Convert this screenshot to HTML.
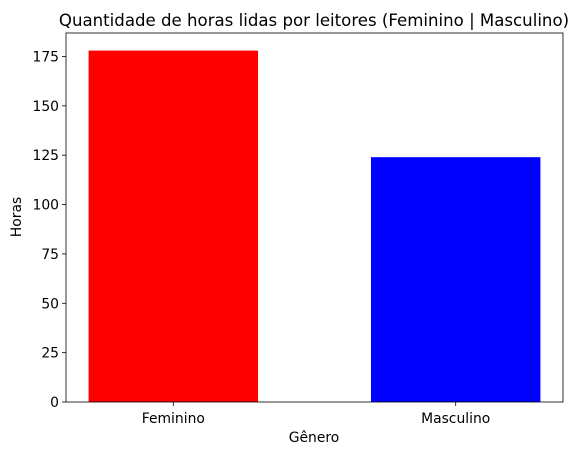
<!DOCTYPE html>
<html><head><meta charset="utf-8"><style>
body{margin:0;background:#fff}
svg text{font-family:"DejaVu Sans","Liberation Sans",sans-serif;fill:#000}
</style></head><body>
<svg id="chart" width="578" height="455" xmlns="http://www.w3.org/2000/svg">
<text x="314" y="26" font-size="16.6" text-anchor="middle">Quantidade de horas lidas por leitores (Feminino | Masculino)</text>
<g id="bars"></g>
<g id="axes"></g>
<text x="314" y="442" font-size="13.9" text-anchor="middle">Gênero</text>
<text transform="translate(21,217) rotate(-90)" font-size="13.9" text-anchor="middle">Horas</text>
</svg>
<script>
const categories=["Feminino","Masculino"];
const values=[178,124];
const colors=["#ff0000","#0000ff"];
const yTicks=[0,25,50,75,100,125,150,175];
const L=66,R=563,T=33,B=402;
const ymax=Math.max(...values)*1.05;
const xmin=-0.38,xmax=categories.length-1+0.38;
const sx=v=>L+(v-xmin)/(xmax-xmin)*(R-L);
const sy=v=>B-v/ymax*(B-T);
const NS="http://www.w3.org/2000/svg";
const bars=document.getElementById('bars'),axes=document.getElementById('axes');
function mk(tag,a,p){const e=document.createElementNS(NS,tag);for(const k in a)e.setAttribute(k,a[k]);p.appendChild(e);return e;}
values.forEach((v,i)=>{
 const r=mk('rect',{x:sx(i-0.3),y:sy(v),width:sx(i+0.3)-sx(i-0.3),height:B-sy(v),fill:colors[i]},bars);
 
 
 const t=mk('line',{x1:sx(i),x2:sx(i),y1:B,y2:B+4,stroke:'#000','stroke-width':0.8},axes);
 
 
 const l=mk('text',{x:sx(i),y:B+21,'font-size':13.9,'text-anchor':'middle'},axes);
 l.textContent=categories[i];
 
 
});
yTicks.forEach(v=>{
 const t=mk('line',{x1:L-4,x2:L,y1:sy(v),y2:sy(v),stroke:'#000','stroke-width':0.8},axes);
 
 
 const l=mk('text',{x:L-7,y:sy(v)+5,'font-size':13.9,'text-anchor':'end'},axes);
 l.textContent=v;
 
 
});
const f=mk('rect',{x:L,y:T,width:R-L,height:B-T,fill:'none',stroke:'#000','stroke-width':0.8},axes);


</script>
</body></html>
